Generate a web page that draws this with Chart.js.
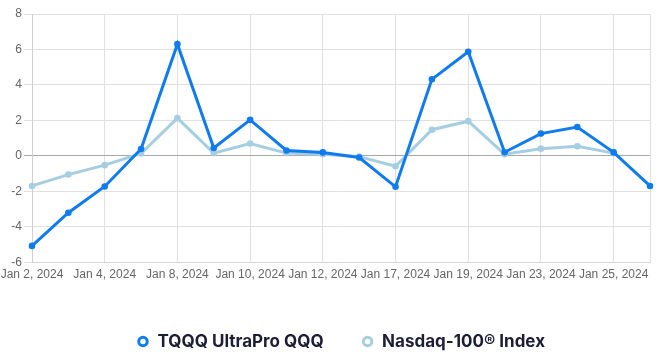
<!DOCTYPE html>
<html>
<head>
<meta charset="utf-8">
<script src="https://cdn.jsdelivr.net/npm/chart.js@4"></script>
<style>
html,body{margin:0;padding:0;background:#fff;}
#wrap{width:660px;height:356px;}
</style>
</head>
<body>
<div id="wrap"><canvas id="c" width="660" height="356"></canvas></div>
<script>
const categories = ["Jan 2, 2024","Jan 3, 2024","Jan 4, 2024","Jan 5, 2024","Jan 8, 2024","Jan 9, 2024","Jan 10, 2024","Jan 11, 2024","Jan 12, 2024","Jan 16, 2024","Jan 17, 2024","Jan 18, 2024","Jan 19, 2024","Jan 22, 2024","Jan 23, 2024","Jan 24, 2024","Jan 25, 2024","Jan 26, 2024"];
const tqqqValues = [-5.07,-3.2,-1.72,0.39,6.3,0.45,2.03,0.31,0.2,-0.09,-1.74,4.32,5.87,0.21,1.26,1.63,0.2,-1.69];
const nasdaqValues = [-1.69,-1.05,-0.52,0.14,2.13,0.16,0.7,0.16,0.1,-0.04,-0.58,1.48,1.96,0.1,0.41,0.55,0.16,null];
const seriesNames = ["TQQQ UltraPro QQQ","Nasdaq-100® Index"];
const yTicks = [-6,-4,-2,0,2,4,6,8];

const blue = "#0f7bef";
const light = "#a6cee3";

const legendShift = {
  id: 'legendShift',
  afterLayout(chart) {
    if (chart.legend) { chart.legend.left += 16; chart.legend.right += 16; }
  }
};

new Chart(document.getElementById('c'), {
  type: 'line',
  data: {
    labels: categories,
    datasets: [
      {label: seriesNames[0], data: tqqqValues, borderColor: blue, backgroundColor: blue, borderWidth: 3, pointRadius: 1.8, pointBackgroundColor: blue, pointBorderColor: blue, tension: 0},
      {label: seriesNames[1], data: nasdaqValues, borderColor: light, backgroundColor: light, borderWidth: 3, pointRadius: 1.8, pointBackgroundColor: light, pointBorderColor: light, tension: 0}
    ]
  },
  plugins: [legendShift],
  options: {
    responsive: false,
    animation: false,
    layout: {padding: {top: 14, right: 10, left: 0, bottom: -4}},
    plugins: {
      legend: {
        position: 'bottom',
        title: {display: true, text: '', font: {size: 1}, padding: {top: 7, bottom: 0}},
        labels: {
          usePointStyle: true,
          pointStyle: 'circle',
          boxWidth: 12, boxHeight: 6,
          padding: 38,
          color: '#1b1e36',
          font: {family: 'Inter', size: 17, weight: '700'},
          generateLabels: (chart) => chart.data.datasets.map((d, i) => ({
            text: d.label, fillStyle: '#fff', strokeStyle: d.borderColor, lineWidth: 3,
            pointStyle: 'circle', datasetIndex: i, hidden: false, fontColor: '#1b1e36'
          }))
        }
      },
      tooltip: {enabled: false}
    },
    scales: {
      x: {
        afterFit: (s) => { s.paddingLeft = 32; },
        grid: {color: '#e0e0e0', drawTicks: false},
        border: {color: '#d6d6d6'},
        ticks: {
          autoSkip: false, maxRotation: 0, padding: 5, color: '#666',
          font: {family: 'Liberation Sans', size: 12},
          callback: function(v, i) { return i % 2 === 0 ? categories[i] : (i === categories.length - 1 ? '' : null); }
        }
      },
      y: {
        min: yTicks[0], max: yTicks[yTicks.length - 1],
        afterFit: (s) => { s.width = 32; },
        grid: {color: (ctx) => ctx.tick && ctx.tick.value === 0 ? '#a8a8a8' : '#e0e0e0'},
        border: {display: true, color: '#cfcfcf'},
        ticks: {stepSize: 2, padding: 2, color: '#666', font: {family: 'Liberation Sans', size: 12}}
      }
    }
  }
});
</script>
</body>
</html>
